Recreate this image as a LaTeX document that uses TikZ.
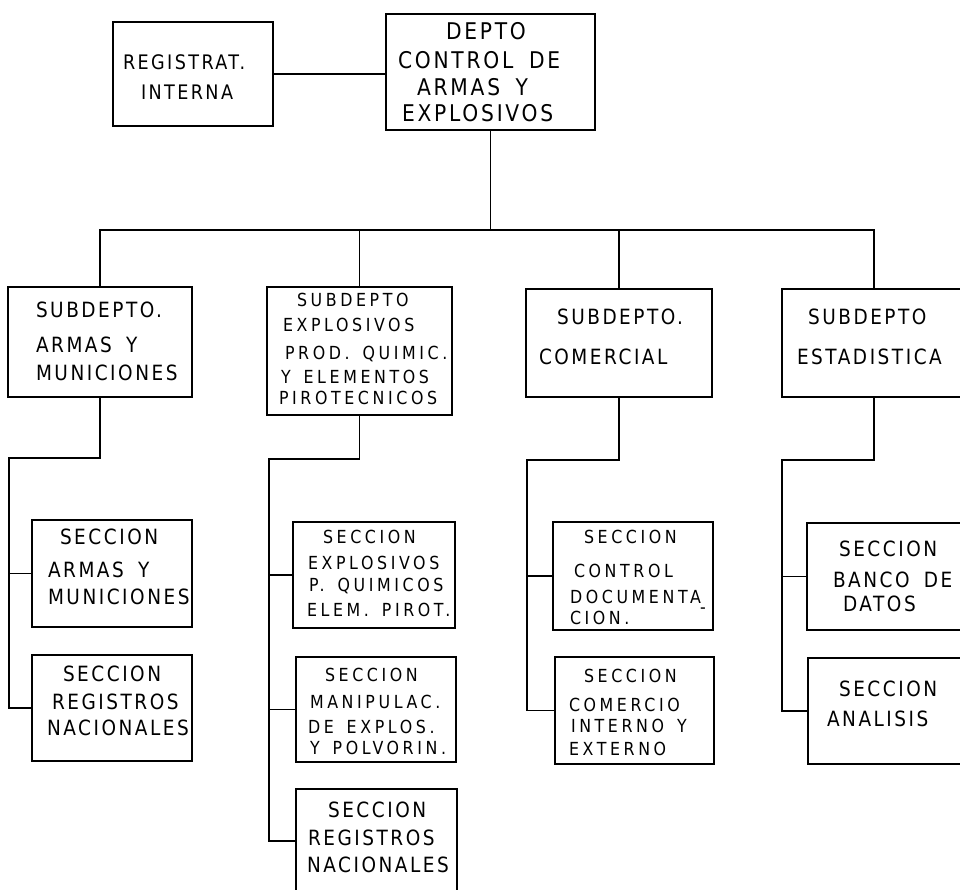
\documentclass[tikz,border=0pt]{standalone}
\usepackage{fontspec}
\setmainfont{DejaVu Sans}
% narrow, widely tracked capitals in the style of a lettering guide
\newfontfamily\letterA{DejaVu Sans}[FakeStretch=0.88, LetterSpace=12, WordSpace=1.7]
\newfontfamily\letterB{DejaVu Sans}[FakeStretch=0.88, LetterSpace=20, WordSpace=1.5]
\usetikzlibrary{fit}
\tikzset{
  box/.style={draw=black, line width=1.3pt, inner sep=0pt, outer sep=0pt},
  link/.style={draw=black, line width=1.1pt},
  lbl/.style={anchor=west, inner sep=0pt, outer sep=0pt, text=black,
    font=\letterA\fontsize{21}{21}\selectfont, text height=15.3pt, text depth=0pt},
  lbls/.style={lbl, font=\letterB\fontsize{18}{18}\selectfont, text height=13.1pt},
  lblr/.style={lbl, font=\letterA\fontsize{20}{20}\selectfont, text height=14.6pt},
  lblt/.style={lbl, font=\letterA\fontsize{23}{23}\selectfont, text height=16.8pt},
}
\begin{document}
\begin{tikzpicture}[x=1pt, y=-1pt]
\useasboundingbox (0,0) rectangle (960,890);
\clip (0,0) rectangle (960,890);

% ---- boxes ----
\node[box, fit={(386,14) (595,130)}] (top) {};
\node[box, fit={(113,22) (273,126)}] (reg) {};

\node[box, fit={(8,287) (192,397)}] (s1) {};
\node[box, fit={(267,287) (452,415)}] (s2) {};
\node[box, fit={(526,289) (712,397)}] (s3) {};
\node[box, fit={(782,289) (966,397)}] (s4) {};

\node[box, fit={(32,520) (192,627)}] (a1) {};
\node[box, fit={(32,655) (192,761)}] (a2) {};

\node[box, fit={(293,522) (455,628)}] (b1) {};
\node[box, fit={(296,657) (456,762)}] (b2) {};
\node[box, fit={(296,789) (457,893)}] (b3) {};

\node[box, fit={(553,522) (713,630)}] (c1) {};
\node[box, fit={(555,657) (714,764)}] (c2) {};

\node[box, fit={(807,523) (975,630)}] (d1) {};
\node[box, fit={(808,658) (975,764)}] (d2) {};

% ---- connectors ----
\draw[link] (reg.east) -- (reg.east -| top.west);
\coordinate (bus) at (0,230);
\draw[link] (top.south) -- (top.south |- bus);
\draw[link] (s1.north) |- (s4.north |- bus) -- (s4.north);
\draw[link] (s2.north) -- (s2.north |- bus);
\draw[link] (s3.north) -- (s3.north |- bus);

\coordinate (k1) at (9,458);
\draw[link] (s1.south) |- (k1) |- (a2.west);
\draw[link] (k1 |- a1.west) -- (a1.west);

\coordinate (k2) at (269,459);
\draw[link] (s2.south) |- (k2) |- (b3.west);
\draw[link] (k2 |- b1.west) -- (b1.west);
\draw[link] (k2 |- b2.west) -- (b2.west);

\coordinate (k3) at (527,460);
\draw[link] (s3.south) |- (k3) |- (c2.west);
\draw[link] (k3 |- c1.west) -- (c1.west);

\coordinate (k4) at (782,460);
\draw[link] (s4.south) |- (k4) |- (d2.west);
\draw[link] (k4 |- d1.west) -- (d1.west);

% ---- labels ----
\node[lblt] (top1) at (446,31) {DEPTO};
\node[lblt] (top2) at (398,60) {CONTROL DE};
\node[lblt] (top3) at (417,87) {ARMAS Y};
\node[lblt] (top4) at (402,113) {EXPLOSIVOS};

\node[lblr] (reg1) at (123,62) {REGISTRAT.};
\node[lblr] (reg2) at (141,92) {INTERNA};

\node[lbl] (s1a) at (36,310) {SUBDEPTO.};
\node[lbl] (s1b) at (36,345) {ARMAS Y};
\node[lbl] (s1c) at (36,373) {MUNICIONES};

\node[lbls] (s2a) at (297,300) {SUBDEPTO};
\node[lbls] (s2b) at (283,325) {EXPLOSIVOS};
\node[lbls] (s2c) at (285,353) {PROD. QUIMIC.};
\node[lbls] (s2d) at (281,377) {Y ELEMENTOS};
\node[lbls] (s2e) at (279,398) {PIROTECNICOS};

\node[lbl] (s3a) at (557,317) {SUBDEPTO.};
\node[lbl] (s3b) at (539,357) {COMERCIAL};

\node[lbl] (s4a) at (808,317) {SUBDEPTO};
\node[lbl] (s4b) at (797,357) {ESTADISTICA};

\node[lbl] (a1a) at (60,537) {SECCION};
\node[lbl] (a1b) at (48,570) {ARMAS Y};
\node[lbl] (a1c) at (48,597) {MUNICIONES};

\node[lbl] (a2a) at (63,674) {SECCION};
\node[lbl] (a2b) at (52,702) {REGISTROS};
\node[lbl] (a2c) at (47,728) {NACIONALES};

\node[lbls] (b1a) at (323,537) {SECCION};
\node[lbls] (b1b) at (308,563) {EXPLOSIVOS};
\node[lbls] (b1c) at (309,585) {P. QUIMICOS};
\node[lbls] (b1d) at (307,610) {ELEM. PIROT.};

\node[lbls] (b2a) at (325,675) {SECCION};
\node[lbls] (b2b) at (310,702) {MANIPULAC.};
\node[lbls] (b2c) at (308,727) {DE EXPLOS.};
\node[lbls] (b2d) at (310,748) {Y POLVORIN.};

\node[lbl] (b3a) at (328,810) {SECCION};
\node[lbl] (b3b) at (308,838) {REGISTROS};
\node[lbl] (b3c) at (307,865) {NACIONALES};

\node[lbls] (c1a) at (584,537) {SECCION};
\node[lbls] (c1b) at (574,571) {CONTROL};
\node[lbls] (c1c) at (570,597) {DOCUMENTA};
\node[lbls] (c1d) at (570,618) {CION.};
\node[lbls, anchor=center] (c1e) at (703,607) {-};

\node[lbls] (c2a) at (584,676) {SECCION};
\node[lbls] (c2b) at (569,705) {COMERCIO};
\node[lbls] (c2c) at (571,726) {INTERNO Y};
\node[lbls] (c2d) at (569,749) {EXTERNO};

\node[lbl] (d1a) at (839,549) {SECCION};
\node[lbl] (d1b) at (833,580) {BANCO DE};
\node[lbl] (d1c) at (843,604) {DATOS};

\node[lbl] (d2a) at (839,689) {SECCION};
\node[lbl] (d2b) at (827,719) {ANALISIS};
\end{tikzpicture}
\end{document}
